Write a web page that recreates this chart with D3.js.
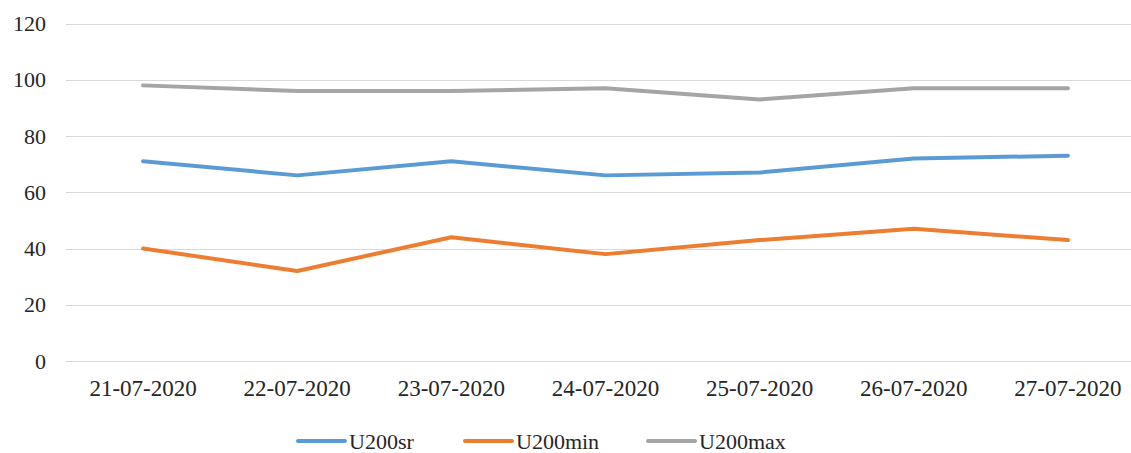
<!DOCTYPE html>
<html><head><meta charset="utf-8">
<script src="https://cdn.jsdelivr.net/npm/d3@7"></script>
<style>body{margin:0;background:#fff;}svg{display:block;}</style>
</head><body>
<svg id="c" width="1131" height="453"></svg>
<script>
const categories = ["21-07-2020","22-07-2020","23-07-2020","24-07-2020","25-07-2020","26-07-2020","27-07-2020"];
const seriesNames = ["U200sr","U200min","U200max"];
const u200sr  = [71, 66, 71, 66, 67, 72, 73];
const u200min = [40, 32, 44, 38, 43, 47, 43];
const u200max = [98, 96, 96, 97, 93, 97, 97];
const yTicks = [0, 20, 40, 60, 80, 100, 120];
const colors = ["#5B9BD5", "#ED7D31", "#A5A5A5"];

const svg = d3.select("#c");
const fontFam = '"Liberation Serif"';
const x = d3.scaleBand().domain(categories).range([66, 1145]);
const y = d3.scaleLinear().domain([0, 120]).range([361, 23.5]);

// gridlines
svg.append("g").selectAll("line").data(yTicks).join("line")
  .attr("x1", 66).attr("x2", 1145)
  .attr("y1", d => Math.round(y(d)) + 0.5).attr("y2", d => Math.round(y(d)) + 0.5)
  .attr("stroke", "#D9D9D9").attr("stroke-width", 1);

// y tick labels
svg.append("g").selectAll("text").data(yTicks).join("text")
  .attr("x", 46).attr("y", d => y(d) + 7.5)
  .attr("text-anchor", "end").style("font-family", fontFam).attr("font-size", 22)
  .attr("fill", "#262626").text(d => d);

// x labels
svg.append("g").selectAll("text").data(categories).join("text")
  .attr("x", d => x(d) + x.bandwidth() / 2).attr("y", 396)
  .attr("text-anchor", "middle").style("font-family", fontFam).attr("font-size", 23)
  .attr("fill", "#262626").text(d => d);

const allSeries = [u200sr, u200min, u200max];
const line = d3.line().x((d, i) => x(categories[i]) + x.bandwidth() / 2).y(d => y(d));
svg.append("g").selectAll("path").data(allSeries).join("path")
  .attr("d", d => line(d)).attr("fill", "none")
  .attr("stroke", (d, i) => colors[i]).attr("stroke-width", 4)
  .attr("stroke-linecap", "round").attr("stroke-linejoin", "round");

// legend
const legX = [298, 465, 648];
const lg = svg.append("g").selectAll("g").data(seriesNames).join("g")
  .attr("transform", (d, i) => `translate(${legX[i]},441)`);
lg.append("line").attr("x1", 0).attr("x2", 47).attr("y1", 0).attr("y2", 0)
  .attr("stroke", (d, i) => colors[i]).attr("stroke-width", 4).attr("stroke-linecap", "round");
lg.append("text").attr("x", 51).attr("y", 7.5)
  .style("font-family", fontFam).attr("font-size", 22).attr("fill", "#262626").text(d => d);
</script>
</body></html>
